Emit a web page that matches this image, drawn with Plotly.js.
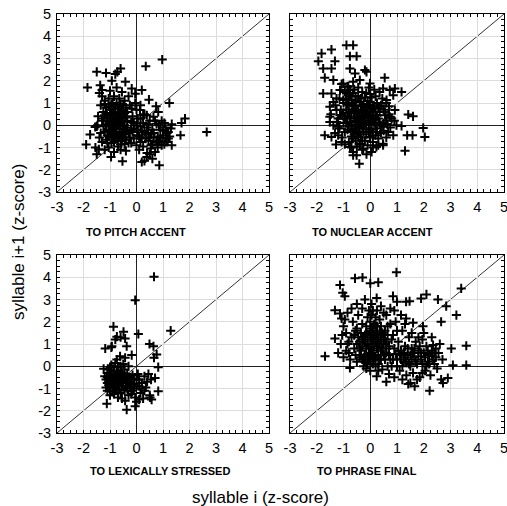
<!DOCTYPE html>
<html>
<head>
<meta charset="utf-8">
<script src="https://cdn.plot.ly/plotly-3.0.1.min.js"></script>
<style>html,body{margin:0;padding:0;background:#fff;}#chart{width:507px;height:506px;}</style>
</head>
<body>
<div id="chart"></div>
<script>
// ---- DATA: [syllable i z-score, syllable i+1 z-score] ----
const panelTitles = ["TO PITCH ACCENT", "TO NUCLEAR ACCENT", "TO LEXICALLY STRESSED", "TO PHRASE FINAL"];
const tickVals = [-3, -2, -1, 0, 1, 2, 3, 4, 5];
const tickText = ["-3", "-2", "-1", "0", "1", "2", "3", "4", "5"];

const pitchPts = [
[0.97,2.95],[0.35,2.65],[2.65,-0.3],[0.86,-1.8],[1.83,0.3],[1.7,0.1],[1.66,-0.45],[1.24,1.0],[-1.85,1.7],[-1.9,-0.87],
[-1.5,2.4],[-1.15,2.35],[-0.72,2.4],[-0.6,2.55],[-0.8,2.3],[-0.42,1.95],[-0.93,2.0],[-1.37,1.8],[-1.3,1.58],[-0.18,1.65],
[-0.05,1.42],[0.2,1.58],[0.47,1.15],[0.74,0.85],[-0.53,-1.62],[-0.96,-1.43],[-1.5,-1.3],[-1.42,-1.08],[0.2,-1.65],[0.39,-1.43],
[0.54,-1.05],[1.33,-0.9],[1.14,-0.75],[1.2,-0.3],[1.33,0.05],[0.95,-0.9],[-1.75,-0.42],[-1.56,-0.08],[-1.47,0],[0.64,0.38],
[0.82,0.6],[0.76,0.07],[0.13,0.68],[-0.18,0.75],[0.39,0.45],
[-1.3,1.3],[-1.4,1.45],[-1.2,1.1],[-1.35,0.9],[-1.25,0.6],[-1.45,0.4],[-1.5,-0.05],[-1.4,-0.55],[-1.3,-0.75],[-1.55,-1.0],
[-1.2,-1.1],[-1.05,-1.0],[-0.85,-1.2],[-0.6,-1.1],[-0.4,-1.15],[-0.3,-0.8],[0.0,-0.9],[0.25,-0.95],[0.45,-0.7],[0.6,-0.85],
[0.7,-1.2],[0.5,-1.3],[0.3,-1.6],[0.1,-0.5],[0.3,-0.3],[0.55,-0.4],[0.8,-0.5],[0.9,-0.2],[1.0,-0.45],[1.1,-0.1],
[1.2,-0.6],[0.95,0.2],[0.5,0.2],[0.25,0.1],[0.05,0.3],[-0.1,0.1],[-0.2,-0.2],[-0.35,0.2],[-0.45,-0.4],[-0.6,0.3],
[-0.7,0.6],[-0.75,-0.3],[-0.85,0.1],[-0.95,0.5],[-1.0,-0.2],[-1.1,0.2],[-1.15,0.8],[-0.9,1.0],[-0.65,1.2],[-0.5,0.9],
[-0.3,1.3],[-0.55,1.5],[-0.75,1.7],[-1.0,1.55],[-0.35,0.6],[-0.15,0.4],[0.0,0.7],[0.15,0.3],[-0.25,-0.55],[-0.55,-0.7],
[-0.8,-0.6],[-1.05,-0.5],[-1.2,-0.3],[-0.95,-0.8],[-0.7,-0.95],[-0.45,0.0],[-0.65,-0.15],[-0.9,0.3],[-1.0,0.7],[-0.8,0.85],
[-0.6,0.55],[-0.4,0.35],[-0.2,0.15],[0.05,-0.2],[0.2,-0.25],[0.4,-0.1],[0.6,-0.2],[0.7,0.2],[0.35,-0.6],[0.15,-0.75],
[-0.1,-0.6],[-0.3,-0.35],[-0.5,-0.2],[-0.75,0.0],[-1.05,0.05],[-1.25,-0.05],[-1.3,0.2],[-1.15,-0.65],[-0.85,-0.35],[-0.65,0.75],
[-0.45,1.1],[-0.85,1.3],[-1.05,1.2],[-0.95,-0.05],[-0.7,0.4],[-0.55,0.15],[-0.35,-0.1],[-0.15,-0.3],[0.0,0.0],[0.3,0.5],
[0.45,-0.35],[0.65,-0.55],[0.85,-0.7],[1.05,-0.85],[1.25,-0.5],[1.3,-0.15],[-0.05,1.0],[0.15,0.9],[-0.25,0.9],[-1.2,0.45],
[-1.35,-0.35],[-0.9,-0.55],[-0.6,-0.45],[-0.4,-0.65],[-0.2,-0.8],[0.1,-1.1],[0.6,-1.5],[0.4,-1.25],
[-1.15,0.55],[-1.1,0.35],[-1.05,-0.25],[-1.0,0.15],[-0.95,0.95],[-0.95,-0.4],[-0.9,0.55],[-0.9,-0.15],[-0.85,0.75],[-0.85,-0.75],
[-0.8,0.35],[-0.8,-0.15],[-0.75,1.0],[-0.75,-0.45],[-0.7,0.2],[-0.7,-0.7],[-0.65,0.5],[-0.65,-0.55],[-0.6,0.0],[-0.6,0.95],
[-0.55,-0.35],[-0.55,0.65],[-0.5,0.3],[-0.5,-0.55],[-0.45,0.55],[-0.45,-0.85],[-0.4,0.8],[-0.4,-0.25],[-1.2,0.95],[-1.1,-0.45],
[-1.0,0.35],[-0.95,0.2],[-0.85,-0.05],[-0.8,0.6],[-0.75,0.25],[-0.7,0.85],[-0.65,0.1],[-0.6,-0.85],[-0.55,0.35],[-0.5,-0.05],
[-1.05,0.85],[-1.1,-0.8],[-1.25,0.3],[-1.15,0.0],[0.05,-0.45],[0.2,-0.55],[0.35,-0.4],[0.5,-0.55],[0.65,-0.35],[0.75,-0.75],
[0.9,-0.6],[1.0,-0.25],[1.1,-0.55],[0.85,0.0],[0.45,0.05],[0.15,-0.05],[-0.1,-0.15],[0.25,0.45],[0.55,-0.9],[0.8,-1.0],
[1.15,-0.35],[1.05,0.1]
];

const nuclearPts = [
[-1.94,2.88],[-1.82,3.23],[-1.45,3.4],[-0.89,3.6],[-0.64,3.6],[-0.76,3.1],[-0.51,3.1],[-1.32,2.88],[-1.76,2.55],[-1.45,2.55],
[-1.7,2.13],[-1.38,2.03],[-0.76,2.55],[-0.2,2.48],[0.54,2.13],[-1.76,1.43],[-1.45,1.43],[-1.07,1.85],[0.92,1.65],[1.17,1.5],
[1.42,0.48],[1.6,0.4],[1.17,-0.03],[1.98,-0.12],[2.04,-0.53],[1.58,-0.45],[1.38,-0.45],[1.3,-1.15],[-0.41,-1.73],[-0.64,-1.35],
[-0.14,-1.3],[0.05,-1.2],[-1.7,-0.45],[-1.32,-0.35],[-1.28,-0.86],[0.48,-0.83],[0.86,-0.45],[0.67,-0.3],[-1.51,0.15],[-1.47,0.5],
[-0.57,2.33],[-0.14,2.4],[-0.39,2.03],[-0.01,1.88],[0.48,1.65],[0.73,1.58],[0.86,1.35],[0.61,1.13],[0.36,0.83],[0.92,0.68],
[0.73,0.38],[0.98,0.0],[0.48,-0.07],[0.23,-0.3],[-0.01,-0.53],[-0.39,-0.83],[-0.76,-0.98],[-1.07,-0.75],[-0.64,-1.2],[-0.51,-1.35],
[-0.26,-1.05],[0.23,-0.98],[0.48,-0.9],[-1.13,0.45],[-1.26,0.68],[-1.38,1.05],[-1.26,1.2],[-1.01,1.13],[-0.89,1.43],[-1.13,1.58],
[-0.82,1.73],[-0.64,1.95],[-1.01,1.88],[-1.51,0.83],[-1.51,0.38],[-1.38,0.0],[-1.2,-0.07],[-1.45,-0.53],
[-0.9,1.2],[-0.8,0.9],[-0.7,0.6],[-0.6,0.3],[-0.5,0.0],[-0.4,-0.3],[-0.3,0.5],[-0.2,0.8],[-0.1,1.1],[0.0,1.4],
[0.1,0.9],[0.2,0.6],[0.3,0.3],[0.4,0.0],[0.5,0.7],[0.6,1.0],[0.7,0.5],[0.2,1.3],[0.35,1.5],[-0.05,1.7],
[-0.3,1.5],[-0.55,1.3],[-0.75,1.6],[-1.0,1.0],[-1.1,0.7],[-1.2,0.3],[-1.0,0.1],[-0.85,-0.2],[-0.7,-0.5],[-0.55,-0.7],
[-0.35,-0.55],[-0.15,-0.4],[0.05,-0.2],[0.15,0.1],[-0.05,0.3],[-0.25,0.1],[-0.45,0.7],[-0.65,1.0],[-0.85,0.4],[-0.95,-0.3],
[-0.75,0.15],[-0.55,-0.2],[-0.35,0.25],[-0.15,0.55],[0.05,0.75],[0.25,1.0],[0.45,1.2],[0.6,0.2],[0.8,0.3],[0.5,-0.25],
[0.3,-0.6],[0.1,-0.75],[-0.1,-0.9],[-0.3,-1.1],[-0.5,-0.95],[-0.8,-0.75],[-1.05,-0.55],[-1.15,-0.15],[-1.25,0.15],[-1.05,0.45],
[-0.6,0.85],[-0.4,1.05],[-0.2,1.25],[0.0,1.05],[0.15,1.6],[-0.45,1.7],[-0.65,1.45],[-0.85,1.75],[-0.3,-0.15],[-0.5,0.4],
[-0.7,0.05],[-0.9,0.7],[-0.2,0.35],[0.0,0.5],[0.2,0.25],[0.35,0.6],[0.55,0.45],[0.7,0.85],[0.4,-0.35],[0.2,-0.45],
[0.0,-0.55],[-0.2,-0.7],[-0.45,-0.5],[-0.65,-0.3],[-0.8,-0.05],[-0.6,0.55],[-0.4,0.15],[-0.25,-0.3],[-0.05,0.05],[0.1,0.4],
[-0.1,0.7],[-0.35,0.85],[-0.55,1.1],[-0.75,1.3],[-0.95,1.5],[-1.15,1.2],[-1.3,0.9],[-1.2,-0.45],[-0.95,-0.85],[-0.7,-1.0],
[-0.4,-0.85],[0.1,-1.0],[0.3,-0.9],[0.6,-0.55],[0.75,-0.1],[0.9,0.2],[0.5,0.1],[0.25,-0.15],[-0.6,-0.15],[-0.45,0.0],
[-0.25,0.0],
[-0.85,0.95],[-0.8,0.55],[-0.75,0.35],[-0.7,1.15],[-0.7,-0.2],[-0.65,0.7],[-0.6,-0.4],[-0.55,0.2],[-0.55,0.9],[-0.5,0.6],
[-0.5,-0.3],[-0.45,1.3],[-0.45,0.3],[-0.4,0.5],[-0.4,-0.1],[-0.35,0.05],[-0.35,1.2],[-0.3,0.7],[-0.3,0.2],[-0.25,0.95],
[-0.25,0.45],[-0.2,0.1],[-0.2,0.6],[-0.15,-0.15],[-0.15,1.45],[-0.1,0.45],[-0.1,0.2],[-0.05,0.9],[-0.05,-0.3],[0.0,0.35],
[0.0,0.85],[0.05,0.15],[0.05,1.25],[0.1,0.6],[0.1,-0.3],[0.15,0.8],[0.2,0.05],[0.25,0.45],[0.3,0.75],[0.35,0.1],
[-0.6,1.6],[-0.8,1.4],[-0.95,0.3],[-1.0,0.55],[-0.9,0.1],[-0.65,-0.6],[-0.3,-0.7],[0.4,0.9],[0.55,0.6],[0.65,0.05]
];

const lexicalPts = [
[0.66,4.02],[-0.05,2.97],[1.29,1.6],[0.07,1.45],[-0.87,1.78],[-0.74,1.33],[-0.49,1.55],[-0.43,1.25],[-0.37,0.9],[-1.18,0.8],
[-0.93,0.9],[-0.18,0.5],[-0.74,0.3],[-0.62,0.45],[-0.43,0.38],[0.49,1.0],[0.64,0.9],[0.76,0.53],[0.66,0.38],[0.82,-0.04],
[0.82,-1.12],[0.7,-0.53],[-1.12,-1.68],[-0.37,-1.95],[-0.05,-1.8],[-0.43,-1.55],[0.51,-1.4],[0.57,-1.5],[-1.24,-0.11],[-1.0,-0.04],
[-0.6,1.3],[-0.8,1.2],[-0.95,0.85],
[-1.1,-0.3],[-1.15,-0.6],[-1.05,-0.85],[-1.1,-1.1],[-1.0,-1.3],[-0.9,-0.5],[-0.85,-0.2],[-0.8,-0.8],[-0.75,-1.05],[-0.7,-0.35],
[-0.65,-0.6],[-0.6,-1.2],[-0.55,-0.9],[-0.5,-0.45],[-0.45,-0.15],[-0.4,-0.7],[-0.35,-1.0],[-0.3,-1.3],[-0.25,-0.5],[-0.2,-0.8],
[-0.15,-1.1],[-0.1,-0.6],[-0.05,-1.4],[0.0,-0.9],[0.1,-0.6],[0.15,-1.2],[0.2,-0.75],[0.25,-1.45],[0.3,-0.45],[0.35,-0.95],
[0.4,-0.7],[0.5,-1.3],[0.55,-0.6],[-0.95,0.05],[-0.8,0.15],[-0.7,-0.05],[-0.9,-1.0],[-1.0,-0.65],[-0.85,-1.25],[-0.6,-0.25],
[-0.75,-0.55],[-0.55,-1.45],[-0.45,-1.1],[-0.35,-0.35],[-0.25,-0.95],[-0.15,-0.4],[0.05,-0.35],[0.2,-1.0],[-1.2,-0.45],[-1.05,-0.15],
[-0.95,-0.75],[-0.8,-0.45],[-0.65,-0.85],[-0.5,-0.7],[-0.4,-0.5],[-0.3,-0.75],[-0.2,-1.25],[-0.1,-1.0],[0.0,-1.6],[0.1,-1.5],
[0.3,-1.1],[0.45,-0.35],[-0.7,-1.4],[-0.9,-1.15],[-1.15,-0.95],[-0.6,0.0],[-0.5,0.1],[-0.3,0.0],
[-1.1,-0.5],[-1.05,-0.7],[-1.0,-0.4],[-1.0,-0.95],[-0.95,-0.25],[-0.9,-0.65],[-0.85,-0.9],[-0.85,-0.4],[-0.8,-0.6],[-0.8,-1.1],
[-0.75,-0.2],[-0.75,-0.75],[-0.7,-0.55],[-0.7,-0.9],[-0.65,-0.35],[-0.65,-1.05],[-0.6,-0.7],[-0.55,-0.5],[-0.55,-0.3],[-0.5,-0.9],
[-0.45,-0.6],[-0.4,-0.9],[-0.35,-0.6],[-0.3,-0.5],[-0.25,-0.7],[-0.2,-0.55],[-0.1,-0.8],[0.0,-0.6],[0.1,-0.9],[-0.95,-0.55],
[-1.1,-0.75],[-0.6,-0.5]
];

const phrasePts = [
[0.98,4.22],[-0.57,3.95],[-0.29,3.99],[0.0,3.73],[0.3,3.77],[-1.13,3.65],[-1.03,3.3],[-0.95,3.15],[3.4,3.5],[2.1,3.23],
[1.9,3.05],[2.53,3.0],[1.34,2.9],[1.47,2.92],[0.85,3.15],[0.24,3.07],[2.84,2.7],[3.22,2.3],[2.65,2.0],[1.34,2.15],
[1.6,1.95],[1.97,1.8],[3.59,0.92],[3.03,0.8],[3.09,0.05],[3.59,0.05],[2.6,1.0],[2.35,0.95],[-1.69,0.45],[-1.32,1.25],
[-1.32,2.52],[-1.13,2.37],[-1.07,2.15],[2.22,-1.1],[2.72,-0.75],[2.9,-0.53],[1.66,-0.9],[1.42,-0.8],[0.6,-0.7],[0.24,-0.45],
[-0.76,-0.08],
[-1.0,1.8],[-0.9,1.5],[-0.85,1.0],[-0.8,0.6],[-0.75,0.3],[-0.7,1.3],[-0.65,2.0],[-0.6,0.8],[-0.55,1.6],[-0.5,0.2],
[-0.45,2.3],[-0.4,1.1],[-0.35,0.5],[-0.3,1.9],[-0.25,0.0],[-0.2,1.4],[-0.15,0.8],[-0.1,2.2],[-0.05,0.3],[0.0,1.6],
[0.05,1.0],[0.1,2.5],[0.15,0.4],[0.2,1.8],[0.25,1.2],[0.3,0.1],[0.35,2.1],[0.4,0.7],[0.45,1.5],[0.5,2.4],
[0.55,0.3],[0.6,1.1],[0.65,1.8],[0.7,0.5],[0.75,2.6],[0.8,0.0],[0.85,1.4],[0.9,0.8],[0.95,2.0],[1.0,0.3],
[1.05,1.1],[1.1,-0.2],[1.15,0.7],[1.2,1.6],[1.25,0.2],[1.3,0.9],[1.35,-0.4],[1.4,0.5],[1.45,1.3],[1.5,0.0],
[1.55,0.8],[1.6,-0.3],[1.65,0.4],[1.7,1.1],[1.75,0.1],[1.8,0.7],[1.85,-0.5],[1.9,0.3],[1.95,1.2],[2.0,0.6],
[2.05,-0.2],[2.1,0.9],[2.15,0.2],[2.2,0.5],[2.25,-0.4],[2.3,0.7],[2.4,0.1],[2.45,0.4],[2.5,-0.1],[2.55,0.6],
[2.65,-0.6],[2.7,0.3],
[-0.2,0.5],[-0.1,1.0],[0.0,0.2],[0.05,1.3],[0.1,0.7],[0.15,1.9],[0.2,0.0],[0.25,1.5],[0.3,0.9],[0.35,0.3],
[-0.3,0.9],[-0.35,1.5],[-0.15,1.8],[0.0,2.0],[0.1,1.6],[0.2,1.1],[0.4,1.8],[0.5,1.0],[0.55,1.6],[-0.05,0.6],
[-0.25,1.2],[-0.4,0.4],[-0.5,1.0],[-0.6,1.4],[-0.8,1.1],[-0.9,0.7],[-1.1,1.0],[-1.0,0.4],[-1.2,0.6],[-1.05,1.4],
[-0.95,2.1],[-0.85,2.4],[-0.7,2.6],[-0.5,2.8],[-0.3,2.6],[-0.2,3.0],[0.05,2.8],[0.25,2.5],[0.4,2.7],[0.6,2.3],
[0.75,1.9],[0.9,2.5],[1.0,2.9],[1.15,2.3],[0.3,-0.2],[0.0,-0.2],[-0.15,-0.1],[0.45,-0.15],[0.7,-0.35],[0.9,-0.5],
[1.2,-0.6],[1.5,-0.75],[1.75,-0.6],[1.95,-0.3],[0.1,0.1],[-0.1,0.1],[0.6,0.6],[0.8,1.2],[1.0,1.6],[1.3,1.9],
[1.55,1.5],[1.8,1.3],[2.0,1.5],[2.3,1.3],[2.45,0.8],[0.65,0.0],[0.85,0.3],[1.1,0.5],[1.35,0.2],[1.6,0.6],
[1.85,0.9],[2.1,0.0],[2.35,0.3],
[-0.35,0.7],[-0.3,1.3],[-0.25,0.4],[-0.2,1.1],[-0.15,1.5],[-0.1,0.4],[-0.1,1.4],[-0.05,0.8],[0.0,1.2],[0.0,0.5],
[0.05,0.6],[0.05,1.7],[0.1,1.2],[0.1,0.3],[0.15,0.9],[0.15,1.4],[0.2,0.4],[0.2,2.2],[0.25,0.8],[0.25,1.8],
[0.3,1.3],[0.3,0.5],[0.35,1.6],[0.35,1.0],[0.4,0.3],[0.4,1.2],[0.45,0.8],[0.5,1.4],[0.5,0.5],[0.55,1.2],
[0.6,0.8],[0.65,1.4],[-0.2,0.2],[-0.3,0.3],[-0.4,0.8],[-0.45,1.3],[-0.5,1.7],[-0.55,0.5],[0.05,2.3],[-0.05,2.5],
[1.05,0.7],[1.15,0.3],[1.25,0.6],[1.3,0.4],[1.4,0.8],[1.45,0.1],[1.5,0.5],[1.55,0.3],[1.65,0.8],[1.7,0.2],
[1.8,0.45],[1.9,0.6],[1.95,0.1],[2.05,0.4],[2.15,0.7],[2.2,0.1],[2.3,0.45],[2.4,0.6],[1.2,0.0],[1.0,0.0],
[0.95,0.55],[0.75,0.3],[0.7,0.9]
];

// ---- CHART ----
const W = 507, H = 506;
const panels = [pitchPts, nuclearPts, lexicalPts, phrasePts];
// plot-area pixel boxes [left, right, top, bottom]
const boxes = [[57,269,14,192],[290,504,14,192],[57,269,255,433],[290,504,255,433]];
const titlePos = [[136,232],[372,232],[160,471],[367,471]];

const traces = panels.map((pts, i) => ({
  type: 'scatter', mode: 'markers',
  x: pts.map(p => p[0]), y: pts.map(p => p[1]),
  xaxis: i === 0 ? 'x' : 'x' + (i + 1),
  yaxis: i === 0 ? 'y' : 'y' + (i + 1),
  marker: {symbol: 'cross-thin-open', size: 6.5, color: '#000', line: {color: '#000', width: 2}},
  hoverinfo: 'skip', showlegend: false, cliponaxis: true
}));

function axisStyle(showLabels) {
  return {
    range: [-3, 5], tickmode: 'array', tickvals: tickVals, ticktext: tickText,
    showticklabels: showLabels,
    showgrid: true, gridcolor: '#dddddd', gridwidth: 1,
    zeroline: true, zerolinecolor: '#222', zerolinewidth: 1,
    showline: true, linecolor: '#000', linewidth: 1, mirror: 'allticks',
    ticks: 'inside', ticklen: 3, tickcolor: '#000', tickwidth: 1,
    minor: {ticks: 'inside', ticklen: 3, dtick: 0.25, tick0: 0, tickcolor: '#000', tickwidth: 1, showgrid: false},
    tickfont: {family: 'Arial, "Liberation Sans", sans-serif', size: 14.5, color: '#000'},
    ticklabelstandoff: 2, ticklabeloverflow: 'allow',
    automargin: false, fixedrange: true
  };
}

const layout = {
  width: W, height: H,
  margin: {l: 0, r: 0, t: 0, b: 0, pad: 0},
  paper_bgcolor: '#fff', plot_bgcolor: '#fff',
  showlegend: false,
  shapes: [], annotations: []
};

boxes.forEach((b, i) => {
  const sfx = i === 0 ? '' : String(i + 1);
  const xa = axisStyle(true);
  xa.domain = [b[0] / W, b[1] / W];
  xa.anchor = 'y' + sfx;
  const ya = axisStyle(i % 2 === 0);
  ya.domain = [1 - b[3] / H, 1 - b[2] / H];
  ya.anchor = 'x' + sfx;
  layout['xaxis' + sfx] = xa;
  layout['yaxis' + sfx] = ya;
  layout.shapes.push({type: 'line', xref: 'x' + sfx, yref: 'y' + sfx,
    x0: tickVals[0], y0: tickVals[0], x1: tickVals[tickVals.length - 1], y1: tickVals[tickVals.length - 1],
    line: {color: '#333', width: 1}, layer: 'below'});
  layout.annotations.push({text: '<b>' + panelTitles[i] + '</b>', xref: 'paper', yref: 'paper',
    x: titlePos[i][0] / W, y: 1 - titlePos[i][1] / H, xanchor: 'center', yanchor: 'middle', showarrow: false,
    font: {family: '"Liberation Sans Narrow", "Arial Narrow", Arial, sans-serif', size: 11, color: '#000'}});
});

layout.annotations.push({text: 'syllable i+1 (z-score)', xref: 'paper', yref: 'paper',
  x: 18 / W, y: 1 - 242 / H, xanchor: 'center', yanchor: 'middle', textangle: -90, showarrow: false,
  font: {family: 'Arial, "Liberation Sans", sans-serif', size: 17, color: '#000'}});
layout.annotations.push({text: 'syllable i (z-score)', xref: 'paper', yref: 'paper',
  x: 260 / W, y: 1 - 497 / H, xanchor: 'center', yanchor: 'middle', showarrow: false,
  font: {family: 'Arial, "Liberation Sans", sans-serif', size: 17, color: '#000'}});

Plotly.newPlot('chart', traces, layout, {staticPlot: true, displayModeBar: false});
</script>
</body>
</html>
